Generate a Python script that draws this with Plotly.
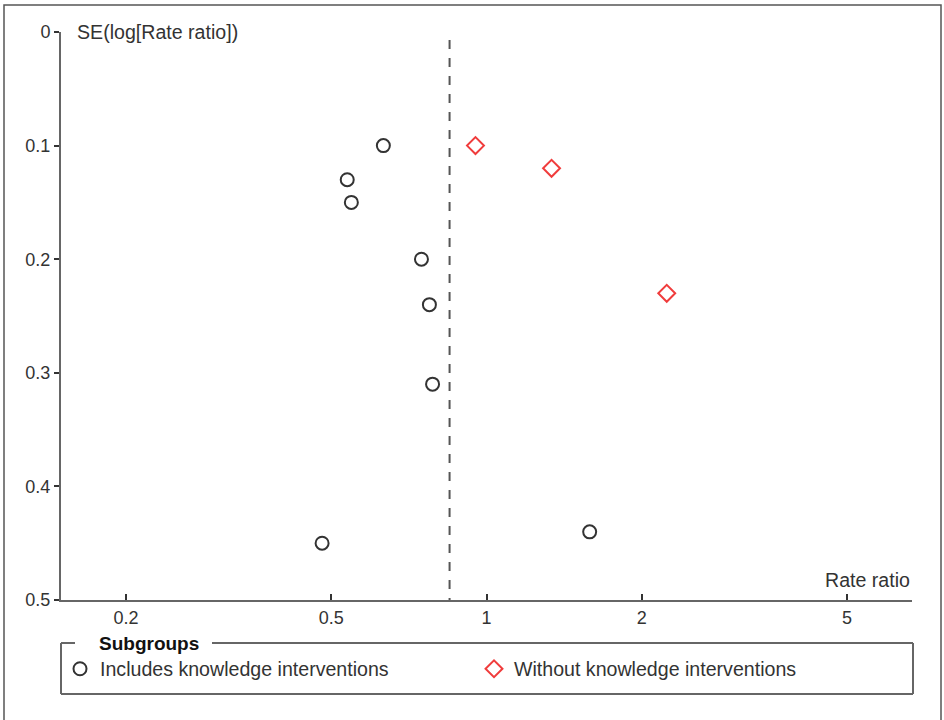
import plotly.graph_objects as go

# Data
inc_rr = [0.631, 0.537, 0.547, 0.748, 0.775, 0.786, 0.480, 1.585]
inc_se = [0.10, 0.13, 0.15, 0.20, 0.24, 0.31, 0.45, 0.44]
wo_rr = [0.952, 1.337, 2.236]
wo_se = [0.10, 0.12, 0.23]
pooled_rr = 0.848
x_tickvals = [0.2, 0.5, 1, 2, 5]
x_ticktext = ["0.2", "0.5", "1", "2", "5"]
y_tickvals = [0, 0.1, 0.2, 0.3, 0.4, 0.5]
y_ticktext = ["0", "0.1", "0.2", "0.3", "0.4", "0.5"]

FONT = "Liberation Sans, Arial, sans-serif"
TXT = "#333333"
AX = "#666666"

fig = go.Figure()
fig.add_trace(go.Scatter(
    x=inc_rr, y=inc_se, mode="markers", name="Includes knowledge interventions",
    marker=dict(symbol="circle-open", size=13, color="#333333", line=dict(width=2, color="#333333")),
))
fig.add_trace(go.Scatter(
    x=wo_rr, y=wo_se, mode="markers", name="Without knowledge interventions",
    marker=dict(symbol="diamond-open", size=13, color="#f03c3c", line=dict(width=2, color="#f03c3c")),
))

# pooled estimate dashed line
fig.add_shape(type="line", xref="x", yref="y", x0=pooled_rr, x1=pooled_rr, y0=0.007, y1=0.5,
              line=dict(color="#555555", width=2, dash="dash"))

W, H = 944, 720
L, R, T, B = 61, 32, 32, 120
pw, ph = W - L - R, H - T - B

def px(x):
    return (x - L) / pw

def py(y):
    return (H - B - y) / ph

# outer frame
fig.add_shape(type="rect", xref="paper", yref="paper", x0=px(4), x1=px(941), y0=py(5), y1=py(730),
              line=dict(color="#555555", width=1.5), fillcolor="rgba(0,0,0,0)", layer="below")

# legend box
lb_top, lb_bot, lb_left, lb_right = 643, 694, 61, 913
seg = dict(color=AX, width=2)
for (x0, y0, x1, y1) in [(lb_left, lb_top, 75, lb_top), (212, lb_top, lb_right, lb_top),
                         (lb_left, lb_top, lb_left, lb_bot), (lb_right, lb_top, lb_right, lb_bot),
                         (lb_left, lb_bot, lb_right, lb_bot)]:
    fig.add_shape(type="line", xref="paper", yref="paper", x0=px(x0), x1=px(x1), y0=py(y0), y1=py(y1), line=seg)

fig.add_annotation(xref="paper", yref="paper", x=px(97), y=py(644), xanchor="left", yanchor="middle",
                   text="<b>Subgroups</b>", showarrow=False, font=dict(family=FONT, size=19, color="#111111"))

fig.add_annotation(xref="paper", yref="paper", x=px(75), y=1, xanchor="left", yanchor="middle",
                   text="SE(log[Rate ratio])", showarrow=False, font=dict(family=FONT, size=19.6, color=TXT))
fig.add_annotation(xref="paper", yref="paper", x=1, y=0, xanchor="right", yanchor="bottom", yshift=7,
                   text="Rate ratio", showarrow=False, font=dict(family=FONT, size=19.6, color=TXT))

fig.update_layout(
    width=W, height=H, margin=dict(l=L, r=R, t=T, b=B, pad=0),
    plot_bgcolor="white", paper_bgcolor="white",
    font=dict(family=FONT, size=18, color=TXT),
    showlegend=True,
    legend=dict(orientation="h", x=px(60), y=py(669), xanchor="left", yanchor="middle",
                font=dict(family=FONT, size=19.6, color=TXT), entrywidth=369, entrywidthmode="pixels",
                bgcolor="rgba(0,0,0,0)", itemclick=False),
    xaxis=dict(type="log", range=[-0.825, 0.825], tickvals=x_tickvals, ticktext=x_ticktext,
               showgrid=False, zeroline=False, showline=True, linecolor=AX, linewidth=2,
               ticks="inside", ticklen=6, tickcolor=TXT, tickwidth=1.5, tickfont=dict(size=18, color=TXT)),
    yaxis=dict(range=[0.5, 0], tickvals=y_tickvals, ticktext=y_ticktext,
               showgrid=False, zeroline=False, showline=True, linecolor=AX, linewidth=2,
               ticks="outside", ticklen=5, tickcolor=TXT, tickwidth=1.5, tickfont=dict(size=18, color=TXT)),
)

fig.write_html("out.html")
